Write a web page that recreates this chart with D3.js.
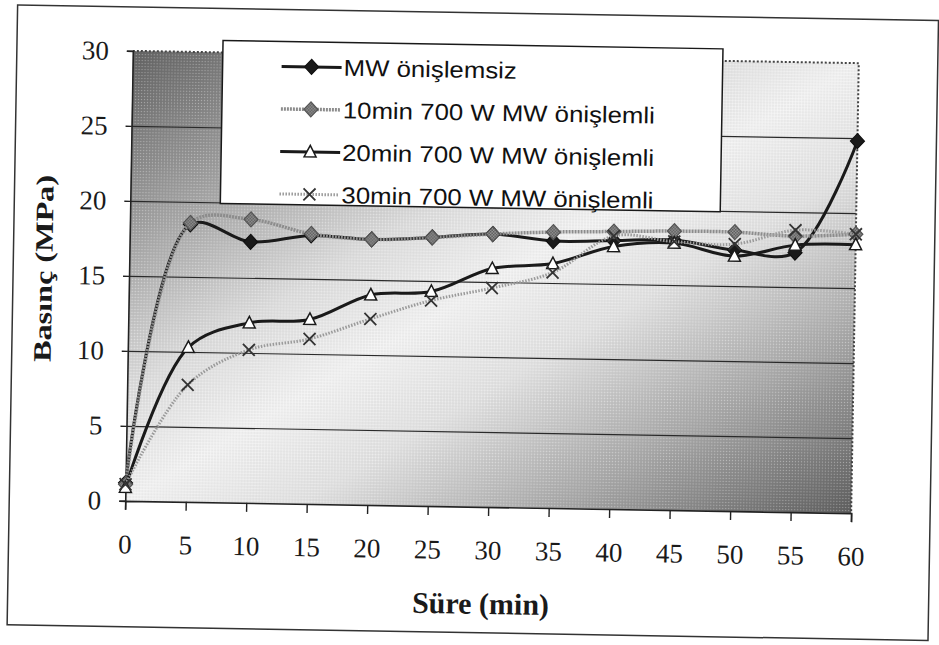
<!DOCTYPE html>
<html>
<head>
<meta charset="utf-8">
<script src="https://cdn.jsdelivr.net/npm/d3@7"></script>
<style>
  html, body { margin: 0; padding: 0; background: #fff; }
  svg { display: block; }
</style>
</head>
<body>
<svg width="939" height="645"></svg>
<script>
const width = 939, height = 645;

// data
const sure = [0, 5, 10, 15, 20, 25, 30, 35, 40, 45, 50, 55, 60];
const mwOnislemsiz = [1.2, 18.5, 17.4, 17.9, 17.7, 17.9, 18.2, 17.8, 17.9, 18.0, 17.4, 17.3, 24.8];
const on10min = [1.1, 18.6, 18.9, 18.0, 17.7, 17.9, 18.2, 18.4, 18.5, 18.6, 18.6, 18.4, 18.6];
const on20min = [0.9, 10.3, 12.0, 12.3, 14.0, 14.3, 15.9, 16.3, 17.5, 17.8, 17.0, 17.8, 17.9];
const on30min = [1.1, 7.8, 10.2, 11.0, 12.4, 13.7, 14.6, 15.7, 18.2, 17.9, 17.8, 18.8, 18.6];
const seriesNames = ["MW önişlemsiz", "10min 700 W MW önişlemli", "20min 700 W MW önişlemli", "30min 700 W MW önişlemli"];
const yTicks = [0, 5, 10, 15, 20, 25, 30];
const xTicks = sure;

const plot = {left: 129, top: 57, width: 726, height: 450};

const svg = d3.select("svg");
const defs = svg.append("defs");

// diagonal dark-light-dark fill like the scanned excel plot area
const grad = defs.append("linearGradient")
    .attr("id", "bg")
    .attr("x1", "0%").attr("y1", "0%")
    .attr("x2", "100%").attr("y2", "100%");
[[0, "#646464"], [0.2, "#a2a2a2"], [0.38, "#dedede"], [0.5, "#f2f2f2"], [0.62, "#e2e2e2"], [0.8, "#a8a8a8"], [1, "#606060"]]
    .forEach(s => grad.append("stop").attr("offset", s[0]).attr("stop-color", s[1]));

const dots = defs.append("pattern")
    .attr("id", "dots")
    .attr("width", 3).attr("height", 3)
    .attr("patternUnits", "userSpaceOnUse");
dots.append("rect").attr("width", 1).attr("height", 1).attr("fill", "#ffffff").attr("opacity", 0.35);
dots.append("rect").attr("x", 1.5).attr("y", 1.5).attr("width", 1).attr("height", 1).attr("fill", "#000").attr("opacity", 0.12);

const hatch = defs.append("pattern")
    .attr("id", "hatch")
    .attr("width", 3).attr("height", 3)
    .attr("patternUnits", "userSpaceOnUse");
hatch.append("rect").attr("width", 3).attr("height", 3).attr("fill", "#9a9a9a");
hatch.append("rect").attr("width", 1.5).attr("height", 1.5).attr("fill", "#555");
hatch.append("rect").attr("x", 1.5).attr("y", 1.5).attr("width", 1.5).attr("height", 1.5).attr("fill", "#555");

// the scan is tilted a little
const root = svg.append("g")
    .attr("transform", "rotate(0.97, 492, 282)");

root.append("rect")
    .attr("x", 13).attr("y", 13)
    .attr("width", 921).attr("height", 620)
    .attr("fill", "#fff")
    .attr("stroke", "#333")
    .attr("stroke-width", 1.5);

const x = d3.scaleLinear().domain([0, 60]).range([0, plot.width]);
const y = d3.scaleLinear().domain([0, 30]).range([plot.height, 0]);

const g = root.append("g")
    .attr("transform", `translate(${plot.left},${plot.top})`);

g.append("rect")
    .attr("width", plot.width).attr("height", plot.height)
    .attr("fill", "url(#bg)");
g.append("rect")
    .attr("width", plot.width).attr("height", plot.height)
    .attr("fill", "url(#dots)");

// gridlines
g.append("g")
    .call(d3.axisLeft(y).tickValues(yTicks.filter(d => d > 0 && d < 30)).tickSize(-plot.width).tickFormat(""))
    .call(a => a.select(".domain").remove())
    .selectAll("line")
    .attr("stroke", "#2a2a2a")
    .attr("stroke-width", 1.2);

// dotted top / right border
g.append("path")
    .attr("d", `M0,0H${plot.width}V${plot.height}`)
    .attr("fill", "none")
    .attr("stroke", "#444")
    .attr("stroke-width", 2)
    .attr("stroke-dasharray", "2,2");

const yAxis = g.append("g")
    .call(d3.axisLeft(y).tickValues(yTicks).tickSize(6).tickPadding(18));
const xAxis = g.append("g")
    .attr("transform", `translate(0,${plot.height})`)
    .call(d3.axisBottom(x).tickValues(xTicks).tickSize(9));

[yAxis, xAxis].forEach(a => {
    a.select(".domain").attr("stroke", "#222").attr("stroke-width", 1.6);
    a.selectAll(".tick line").attr("stroke", "#222").attr("stroke-width", 1.4);
    a.selectAll("text")
        .attr("font-family", "'Liberation Serif', 'Times New Roman', serif")
        .attr("font-size", "27px")
        .attr("fill", "#1a1a1a");
});
xAxis.selectAll("text").attr("y", 43).attr("dy", "0.35em");

root.append("text")
    .attr("transform", "translate(52,276) rotate(-90)")
    .attr("text-anchor", "middle")
    .attr("font-family", "'Liberation Serif', 'Times New Roman', serif")
    .attr("font-weight", "bold")
    .attr("font-size", "25px")
    .attr("fill", "#1a1a1a")
    .attr("textLength", 187)
    .attr("lengthAdjust", "spacingAndGlyphs")
    .text("Basınç (MPa)");

root.append("text")
    .attr("x", 486)
    .attr("y", 614)
    .attr("text-anchor", "middle")
    .attr("font-family", "'Liberation Serif', 'Times New Roman', serif")
    .attr("font-weight", "bold")
    .attr("font-size", "30px")
    .attr("fill", "#1a1a1a")
    .text("Süre (min)");

// series
const series = [
    {name: seriesNames[0], values: mwOnislemsiz, stroke: "#1a1a1a", width: 3, dash: null, marker: "diamond", fill: "#1a1a1a"},
    {name: seriesNames[1], values: on10min, stroke: "#8c8c8c", width: 3.5, dash: "2,1", marker: "diamond", fill: "url(#hatch)"},
    {name: seriesNames[2], values: on20min, stroke: "#1a1a1a", width: 3, dash: null, marker: "triangle", fill: "#fff"},
    {name: seriesNames[3], values: on30min, stroke: "#9a9a9a", width: 3, dash: "1.5,1.5", marker: "x", fill: "none"}
];

const line = d3.line()
    .x(d => x(d[0]))
    .y(d => y(d[1]))
    .curve(d3.curveCatmullRom.alpha(0.5));

function drawMarker(sel, s) {
    if (s.marker === "diamond") {
        sel.append("path")
            .attr("d", "M0,-7.5L7,0L0,7.5L-7,0Z")
            .attr("fill", s.fill)
            .attr("stroke", s.fill === "#1a1a1a" ? "#111" : "#555")
            .attr("stroke-width", 1.2);
    } else if (s.marker === "triangle") {
        sel.append("path")
            .attr("d", "M0,-6.5L6,5L-6,5Z")
            .attr("fill", "#fff")
            .attr("stroke", "#1a1a1a")
            .attr("stroke-width", 1.5);
    } else {
        sel.append("path")
            .attr("d", "M-6,-6L6,6M6,-6L-6,6")
            .attr("fill", "none")
            .attr("stroke", "#333")
            .attr("stroke-width", 1.8);
    }
}

series.forEach(s => {
    const pts = sure.map((t, i) => [t, s.values[i]]);
    g.append("path")
        .datum(pts)
        .attr("d", line)
        .attr("fill", "none")
        .attr("stroke", s.stroke)
        .attr("stroke-width", s.width)
        .attr("stroke-dasharray", s.dash);
    g.selectAll(null)
        .data(pts)
        .join("g")
        .attr("transform", d => `translate(${x(d[0])},${y(d[1])})`)
        .each(function() { drawMarker(d3.select(this), s); });
});

// legend
const legend = root.append("g");
legend.append("rect")
    .attr("x", 219).attr("y", 45)
    .attr("width", 500).attr("height", 163)
    .attr("fill", "#fff")
    .attr("stroke", "#1a1a1a")
    .attr("stroke-width", 1.5);

const rows = legend.selectAll(".row")
    .data(series)
    .join("g")
    .attr("class", "row")
    .attr("transform", (d, i) => `translate(278,${70 + i * 42.5})`);

rows.append("line")
    .attr("x1", 0).attr("x2", 60)
    .attr("stroke", d => d.stroke)
    .attr("stroke-width", d => d.width)
    .attr("stroke-dasharray", d => d.dash);
rows.append("g")
    .attr("transform", "translate(30,0)")
    .each(function(d) { drawMarker(d3.select(this), d); });
rows.append("text")
    .attr("x", 62)
    .attr("dy", "0.36em")
    .attr("font-family", "'Liberation Sans', Arial, sans-serif")
    .attr("font-size", "23px")
    .attr("fill", "#111")
    .text(d => d.name)
    .each(function() {
        const len = this.getComputedTextLength();
        d3.select(this).attr("textLength", len * 1.12).attr("lengthAdjust", "spacingAndGlyphs");
    });
</script>
</body>
</html>
